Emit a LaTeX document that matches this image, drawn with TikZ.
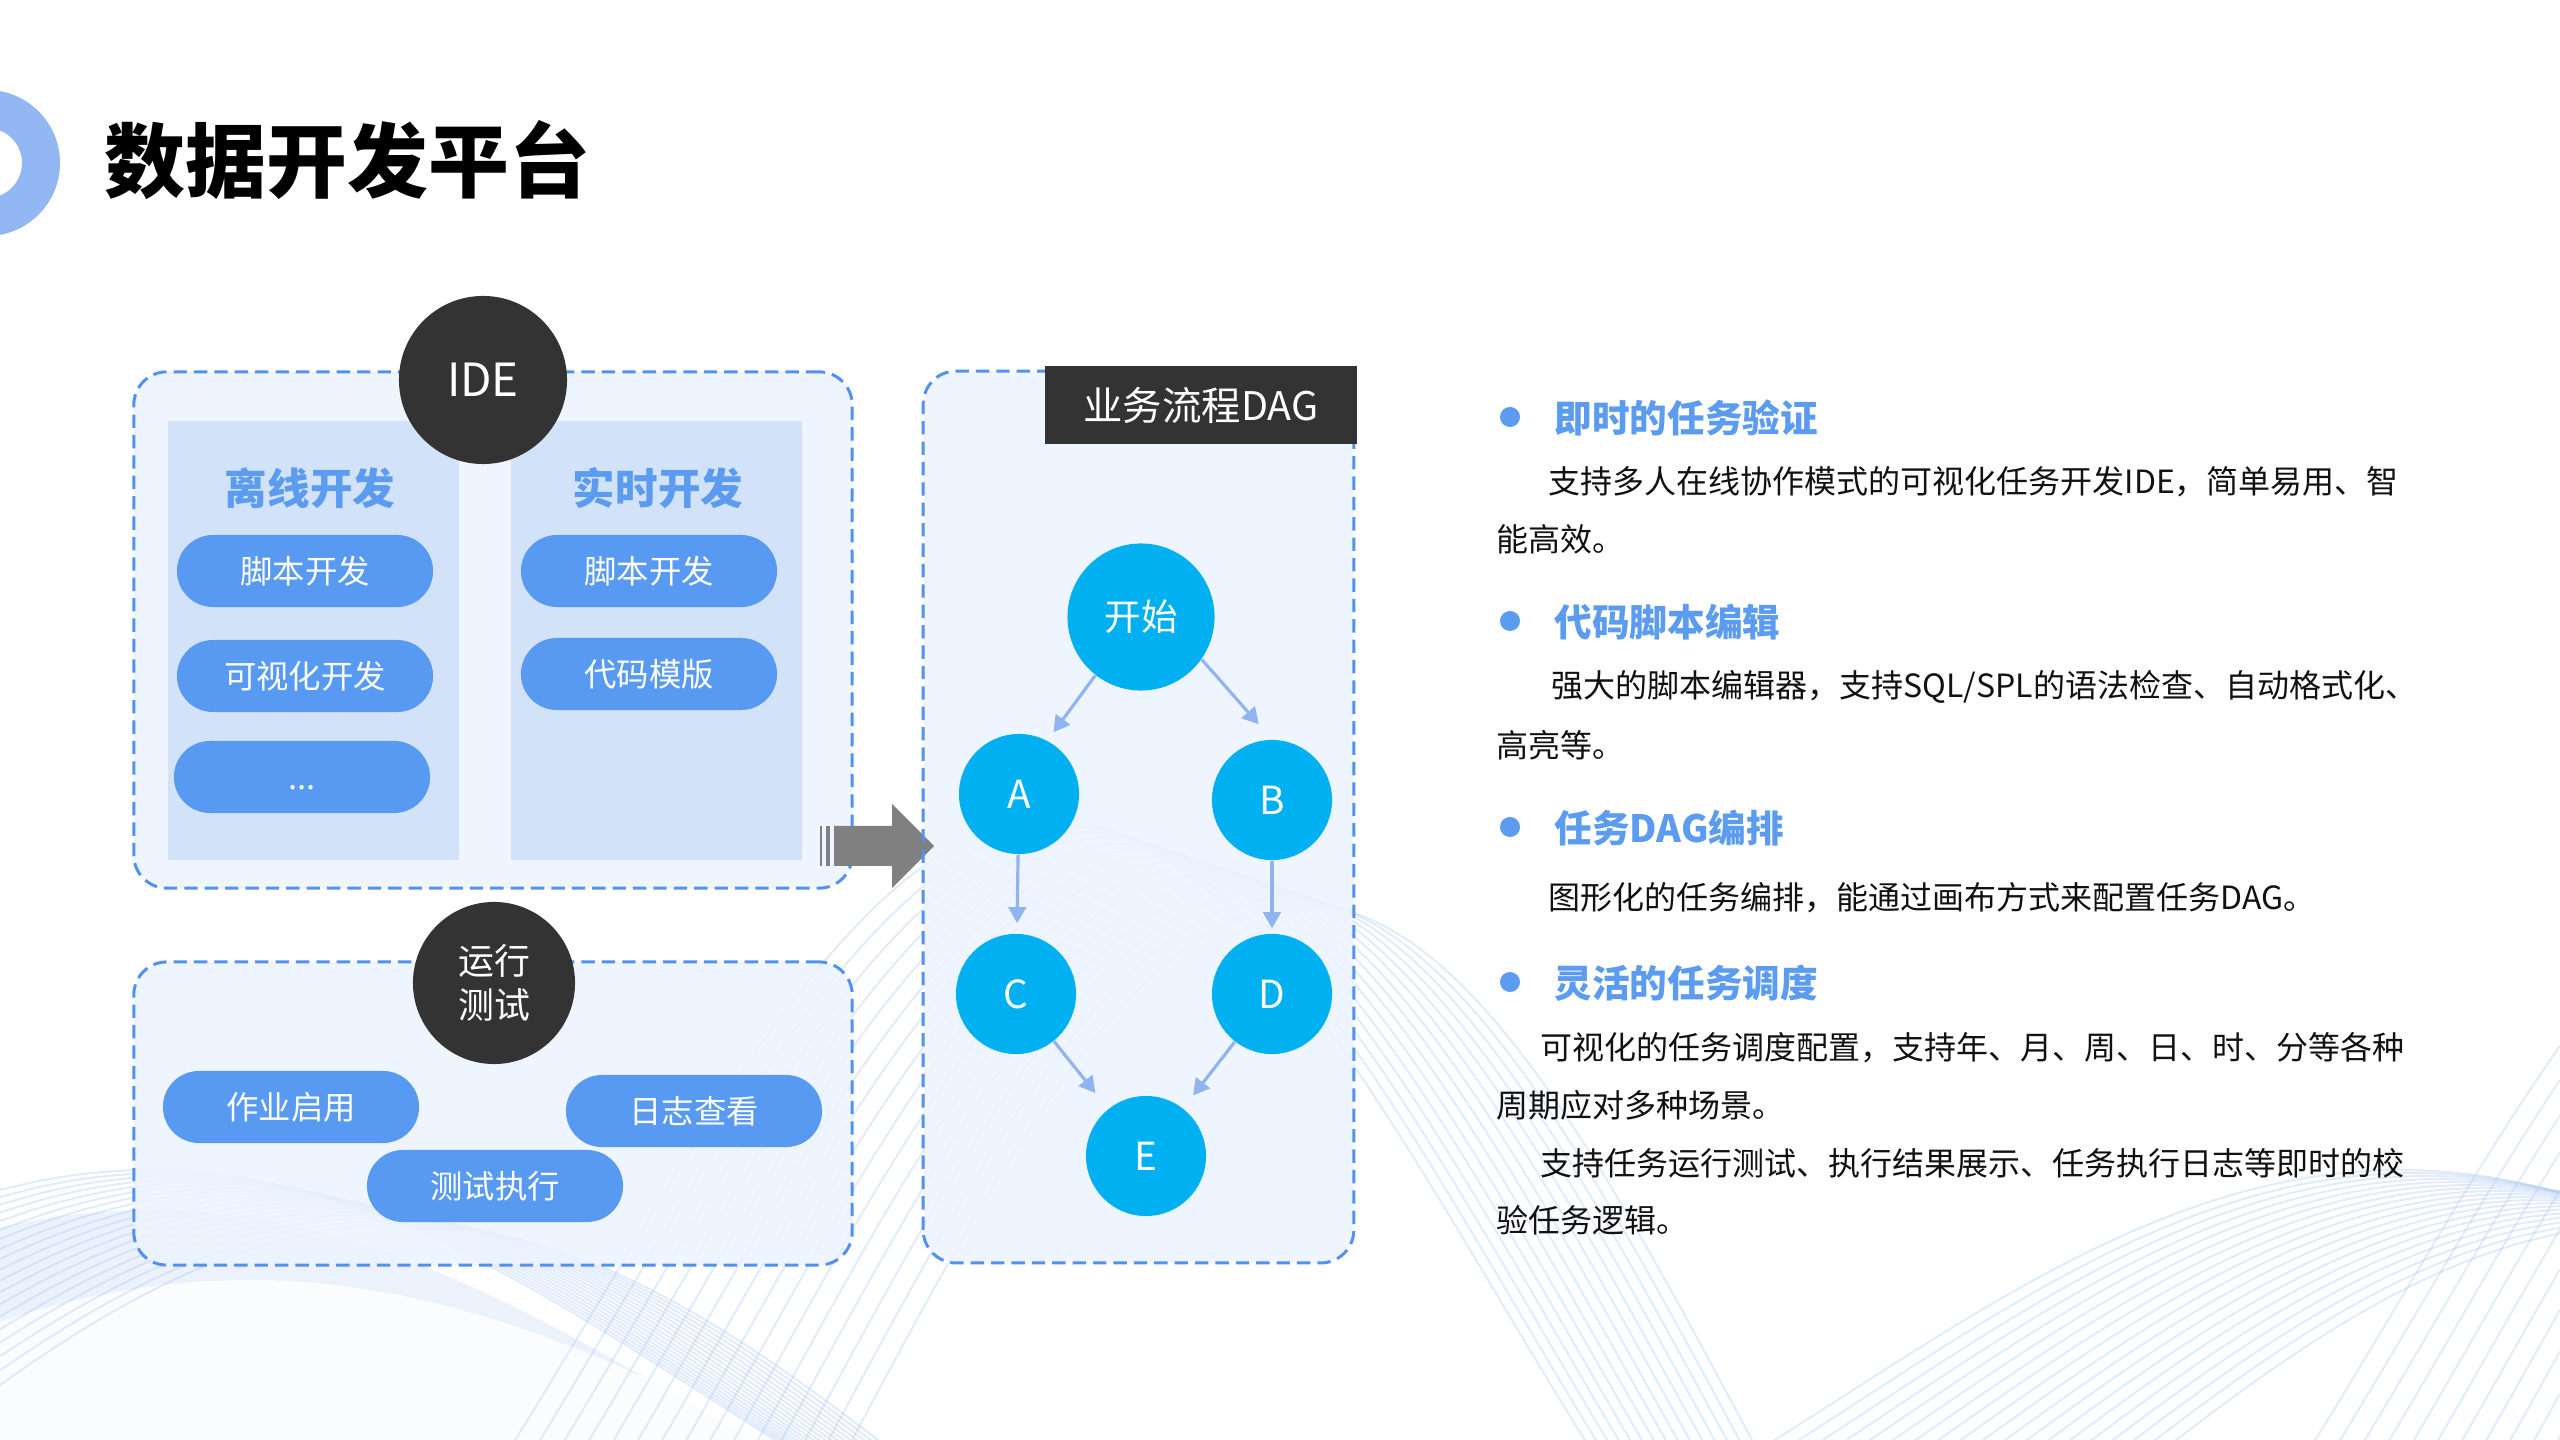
\documentclass[tikz,border=0pt]{standalone}
\usepackage{fontspec}
\setmainfont{Noto Sans CJK SC}
\usetikzlibrary{arrows.meta}
\definecolor{pillblue}{HTML}{5899F2}
\definecolor{headblue}{HTML}{5B9BF0}
\definecolor{dashblue}{HTML}{5291F0}
\definecolor{panelfill}{HTML}{EDF4FE}
\definecolor{colfill}{HTML}{D2E2F8}
\definecolor{darkc}{HTML}{333333}
\definecolor{cyanc}{HTML}{00B0F0}
\definecolor{edgeblue}{HTML}{8FB4F0}
\definecolor{ringblue}{HTML}{93B7F2}
\definecolor{wavec}{HTML}{B3CDF5}
\definecolor{arrowgray}{HTML}{808080}
\definecolor{bodytext}{HTML}{111111}
\newcommand\fsz[2]{\fontsize{#1}{#2}\selectfont}
\begin{document}
\begin{tikzpicture}[x=0.01cm,y=-0.01cm,
  wave/.style={draw=wavec, line width=0.55pt, opacity=0.4},
  panel/.style={draw=dashblue, line width=0.85pt, dash pattern=on 3.8pt off 2pt, fill=panelfill, fill opacity=0.85, rounded corners=0.33cm, inner sep=0},
  panelbg/.style={fill=panelfill, fill opacity=0.85, rounded corners=0.33cm, inner sep=0},
  panelline/.style={draw=dashblue, line width=0.85pt, dash pattern=on 3.8pt off 2pt, rounded corners=0.33cm},
  colbox/.style={fill=colfill, inner sep=0, minimum width=2.91cm, minimum height=4.39cm},
  colhead/.style={text=headblue, inner sep=0, font=\fsz{12.1pt}{12.1pt}\bfseries},
  pill/.style={fill=pillblue, text=white, rounded corners=0.36cm, minimum width=2.56cm, minimum height=0.72cm, inner sep=0, font=\fsz{9.2pt}{9.2pt}},
  darkcirc/.style={circle, fill=darkc, text=white, inner sep=0},
  dagnode/.style={circle, fill=cyanc, text=white, minimum size=1.2cm, inner sep=0, font=\fsz{11pt}{11pt}},
  dagedge/.style={draw=edgeblue, line width=0.9pt, -{Triangle[length=4.6pt,width=5pt]}},
  body/.style={anchor=west, inner sep=0, text=bodytext, font=\fsz{9.1pt}{9.1pt}},
  head/.style={anchor=west, inner sep=0, text=headblue, font=\fsz{10.7pt}{10.7pt}\bfseries},
  bulletdot/.style={circle, fill=headblue, minimum size=0.2cm, inner sep=0}
]
\useasboundingbox (0,0) rectangle (2560,1440);
\clip (0,0) rectangle (2560,1440);
\fill[white] (0,0) rectangle (2560,1440);

% background waves
\fill[wavec, opacity=0.25] plot[domain=0:1100, samples=40, smooth] (\x, {1440 - 230*cos((\x-150)*0.15)}) -- (1100,1440) -- (0,1440) -- cycle;
\fill[white, opacity=0.8] plot[domain=0:1300, samples=40, smooth] (\x, {1480 - 200*cos((\x-250)*0.15)}) -- (1300,1440) -- (0,1440) -- cycle;
\foreach \i in {0,...,18} {
  \draw[wave] plot[domain=0:2560, samples=60, smooth] (\x, {1400 + 6*\i - (230+3*\i)*cos((\x-150-14*\i)*0.16)});
}
\foreach \i in {0,...,14} {
  \draw[wave] plot[domain=300:2560, samples=60, smooth] (\x, {1300 + 10*\i - (480+4*\i)*cos((\x-1050-18*\i)*0.2)});
}

% title decoration and title
\fill[ringblue, even odd rule] (-13,163) circle[radius=0.73cm] (-13,163) circle[radius=0.35cm];
\node[anchor=west, inner sep=0, font=\fsz{23pt}{23pt}\bfseries] (title) at (104,160) {数据开发平台};

% IDE panel
\node[panel, minimum width=7.18cm, minimum height=5.16cm] (idep) at (493,630) {};
\node[colbox] (colL) at (313.5,640.5) {};
\node[colbox] (colR) at (656.5,640.5) {};
\node[darkcirc, minimum size=1.68cm, font=\fsz{13pt}{13pt}] (ide) at (483,380) {IDE};
\node[colhead] (offl) at (310,488) {离线开发};
\node[colhead] (realt) at (658,488) {实时开发};
\node[pill] (pl1) at (305,571) {脚本开发};
\node[pill] (pl2) at (305,676) {可视化开发};
\node[pill] (pl3) at (302,777) {\vphantom{脚}...};
\node[pill] (pr1) at (649,571) {脚本开发};
\node[pill] (pr2) at (649,674) {代码模版};

% run test panel
\node[panel, minimum width=7.18cm, minimum height=3.03cm] (runp) at (493,1113.5) {};
\node[darkcirc, minimum size=1.62cm, align=center, font=\fsz{10.2pt}{12.5pt}] (run) at (494,983) {运行\\测试};
\node[pill] (q1) at (291,1107) {作业启用};
\node[pill] (q2) at (694,1111) {日志查看};
\node[pill] (q3) at (495,1186) {测试执行};

% DAG panel background
\node[panelbg, minimum width=4.29cm, minimum height=8.9cm] (dagp) at (1138.5,817) {};

% gray arrow
\fill[arrowgray] (820,826) rectangle (822,866);
\fill[arrowgray] (826,826) rectangle (830,866);
\fill[arrowgray] (834,826) -- (892,826) -- (892,804) -- (934,846) -- (892,888) -- (892,866) -- (834,866) -- cycle;

% DAG panel border
\draw[panelline] (dagp.south west) rectangle (dagp.north east);
\node[fill=darkc, text=white, minimum width=3.12cm, minimum height=0.78cm, inner sep=0, font=\fsz{11.2pt}{11.2pt}] (dagt) at (1201,405) {业务流程DAG};

% DAG nodes
\node[dagnode, minimum size=1.47cm, font=\fsz{10.4pt}{10.4pt}] (s) at (1141,617) {开始};
\node[dagnode] (a) at (1019,794) {A};
\node[dagnode] (b) at (1272,800) {B};
\node[dagnode] (c) at (1016,994) {C};
\node[dagnode] (d) at (1272,994) {D};
\node[dagnode] (e) at (1146,1156) {E};
\draw[dagedge, shorten >=0.1cm] (s.-128) -- (a.62);
\draw[dagedge, shorten >=0.2cm] (s.-35) -- (b.north);
\draw[dagedge, shorten >=0.1cm] (a) -- (c);
\draw[dagedge, shorten >=0.05cm] (b.south) -- (d.north);
\draw[dagedge, shorten >=0.2cm] (c) -- (e);
\draw[dagedge, shorten >=0.16cm] (d) -- (e);

% right text
\node[bulletdot] (b1) at (1510,417) {};
\node[head] (h1) at (1554,418) {即时的任务验证};
\node[body] (t1) at (1548,482) {支持多人在线协作模式的可视化任务开发IDE，简单易用、智};
\node[body] (t2) at (1496,539) {能高效。};
\node[bulletdot] (b2) at (1510,621) {};
\node[head] (h2) at (1554,622) {代码脚本编辑};
\node[body] (t3) at (1551,687) {强大的脚本编辑器，支持SQL/SPL的语法检查、自动格式化、};
\node[body] (t4) at (1496,745) {高亮等。};
\node[bulletdot] (b3) at (1510,827) {};
\node[head] (h3) at (1554,828) {任务DAG编排};
\node[body] (t5) at (1548,898) {图形化的任务编排，能通过画布方式来配置任务DAG。};
\node[bulletdot] (b4) at (1510,982) {};
\node[head] (h4) at (1554,983) {灵活的任务调度};
\node[body] (t6) at (1540,1048) {可视化的任务调度配置，支持年、月、周、日、时、分等各种};
\node[body] (t7) at (1496,1105) {周期应对多种场景。};
\node[body] (t8) at (1540,1163) {支持任务运行测试、执行结果展示、任务执行日志等即时的校};
\node[body] (t9) at (1496,1220) {验任务逻辑。};
\end{tikzpicture}
\end{document}
